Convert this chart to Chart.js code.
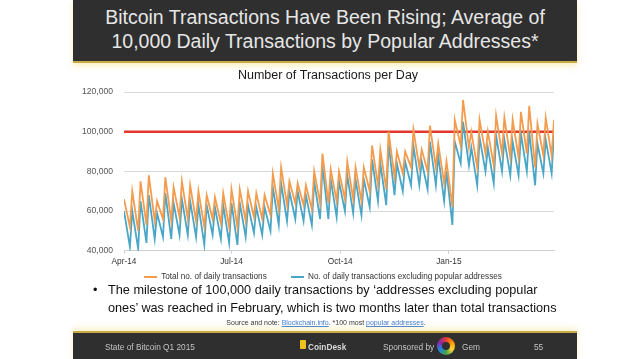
<!DOCTYPE html>
<html>
<head>
<meta charset="utf-8">
<script src="https://cdn.jsdelivr.net/npm/chart.js@4.4.1/dist/chart.umd.min.js"></script>
<style>
  html, body { margin: 0; padding: 0; background: #fff; }
  body { width: 638px; height: 359px; position: relative; overflow: hidden;
         font-family: "Liberation Sans", Arial, Helvetica, sans-serif; }
  .bar { position: absolute; left: 73px; width: 504px; background: #2f2f2f; }
  #header { top: 0; height: 61px; border-bottom: 2px solid #c8ab45;
            box-shadow: 0 3px 6px rgba(245, 225, 140, 0.55); }
  #header div { position: absolute; left: 0; width: 100%; text-align: center;
                color: #e6e6e6; font-size: 19.5px; line-height: 20px; white-space: nowrap; }
  #footer { top: 331px; height: 28px; border-top: 2px solid #c8ab45;
            box-shadow: 0 -3px 6px rgba(245, 225, 140, 0.45); }
  #footer span { position: absolute; top: 9px; font-size: 8.3px; line-height: 10px;
                 color: #c4c4c4; white-space: nowrap; }
  #chart { position: absolute; left: 68px; top: 64px; }
  #bullet { position: absolute; left: 93px; top: 281px; font-size: 12.7px; line-height: 18px;
            color: #111; white-space: nowrap; }
  #bullet .dot { position: absolute; left: 0; }
  #bullet .txt { position: absolute; left: 15px; }
  #source { position: absolute; left: 0; width: 652px; top: 318px; text-align: center;
            font-size: 7px; line-height: 9px; color: #333; white-space: nowrap; }
  #source a { color: #3a7bd5; text-decoration: underline; }
  .cd-icon { position: absolute; top: 7px; width: 6px; height: 9px;
             background: #f0c020; border-radius: 1px; }
  .gem { position: absolute; top: 4px; width: 18px; height: 18px; border-radius: 50%;
         background: conic-gradient(#e53935, #ff9800, #fdd835, #43a047, #1e88e5, #8e24aa, #e53935); }
  .gem::after { content: ""; position: absolute; left: 5px; top: 5px; width: 8px; height: 8px;
                border-radius: 50%; background: #2f2f2f; }
</style>
</head>
<body>
<div id="header" class="bar">
  <div style="top:7px">Bitcoin Transactions Have Been Rising; Average of</div>
  <div style="top:31px">10,000 Daily Transactions by Popular Addresses*</div>
</div>

<canvas id="chart" width="520" height="227"></canvas>

<div id="bullet">
  <span class="dot">•</span>
  <span class="txt">The milestone of 100,000 daily transactions by ‘addresses excluding popular<br>ones’ was reached in February, which is two months later than total transactions</span>
</div>
<div id="source">Source and note: <a>Blockchain.info</a>. *100 most <a>popular addresses</a>.</div>

<div id="footer" class="bar">
  <span style="left:32px">State of Bitcoin Q1 2015</span>
  <div class="cd-icon" style="left:227px"></div>
  <span style="left:235px;font-weight:bold;color:#d8d8d8">CoinDesk</span>
  <span style="left:310px">Sponsored by</span>
  <div class="gem" style="left:364px"></div>
  <span style="left:389px">Gem</span>
  <span style="left:461px">55</span>
</div>

<script>
// days since 1 Apr 2014
const tickDays = [0, 91, 183, 275];
const tickLabels = ['Apr-14', 'Jul-14', 'Oct-14', 'Jan-15'];
const lastDay = 364;
const yTicks = [40000, 60000, 80000, 100000, 120000];
const milestone = 100000;

// weekly highs (Tuesdays, day 0,7,14..) and weekend lows (Sundays, day 5,12,19..)
const totalPeaks = [66000, 70000, 75000, 78000, 65000, 77000, 72000, 75000, 73000, 70000,
  68000, 67000, 69000, 71000, 71000, 70000, 69000, 68000, 79000, 82000,
  75000, 74000, 73000, 80000, 89000, 81000, 80000, 85000, 82000, 82000,
  93000, 91000, 100000, 90000, 90000, 101000, 91000, 103000, 94000, 85000,
  106000, 116000, 100000, 106000, 100000, 108000, 107000, 106000, 110000, 113000,
  104000, 107000, 106000];
const totalTroughs = [52000, 50000, 53000, 55000, 56000, 55000, 57000, 56000, 55000, 52000,
  56000, 54000, 52000, 52000, 55000, 57000, 56000, 58000, 61000, 63000,
  64000, 63000, 61000, 64000, 64000, 65000, 66000, 66000, 65000, 70000,
  73000, 71000, 77000, 79000, 82000, 82000, 80000, 82000, 74000, 62000,
  93000, 92000, 82000, 89000, 83000, 89000, 87000, 87000, 89000, 82000,
  88000, 88000];
const exclPeaks = [60000, 60000, 65000, 68000, 59000, 69000, 64000, 66000, 65000, 63000,
  63000, 62000, 63000, 64000, 64000, 63000, 62000, 62000, 72000, 74000,
  70000, 70000, 68000, 75000, 83000, 76000, 75000, 78000, 76000, 76000,
  86000, 84000, 94000, 84000, 85000, 93000, 85000, 95000, 88000, 80000,
  95000, 105000, 92000, 97000, 92000, 98000, 96000, 95000, 99000, 100000,
  94000, 96000, 99000];
const exclTroughs = [42000, 41000, 44000, 46000, 47000, 46000, 48000, 48000, 47000, 43000,
  48000, 46000, 44000, 43000, 47000, 49000, 48000, 50000, 53000, 55000,
  56000, 55000, 53000, 56000, 56000, 57000, 60000, 59000, 58000, 62000,
  65000, 63000, 68000, 70000, 73000, 73000, 71000, 73000, 65000, 53000,
  84000, 83000, 73000, 80000, 74000, 80000, 78000, 78000, 80000, 73000,
  79000, 79000];

function weekly(peaks, troughs) {
  const pts = [];
  peaks.forEach((v, i) => {
    pts.push({ x: i * 7, y: v });
    if (i < troughs.length) pts.push({ x: i * 7 + 5, y: troughs[i] });
  });
  return pts;
}

// title and legend sit off-centre on the slide
const nudge = {
  id: 'nudge',
  afterLayout(chart) {
    chart.titleBlock.left += 17;
    chart.titleBlock.right += 17;
    chart.legend.left += 12;
    chart.legend.right += 12;
  },
};

Chart.defaults.font.family = '"Liberation Sans", Arial, Helvetica, sans-serif';

const ctx = document.getElementById('chart').getContext('2d');
new Chart(ctx, {
  type: 'line',
  data: {
    datasets: [
      {
        label: 'Total no. of daily transactions',
        data: weekly(totalPeaks, totalTroughs),
        borderColor: '#f39c4e',
        backgroundColor: '#f39c4e',
        borderWidth: 1.8,
        pointRadius: 0,
        tension: 0,
      },
      {
        label: 'No. of daily transactions excluding popular addresses',
        data: weekly(exclPeaks, exclTroughs),
        borderColor: '#4aa6c6',
        backgroundColor: '#4aa6c6',
        borderWidth: 1.8,
        pointRadius: 0,
        tension: 0,
      },
      {
        label: 'milestone',
        data: [{ x: 0, y: milestone }, { x: lastDay, y: milestone }],
        borderColor: '#e2382d',
        borderWidth: 2.5,
        pointRadius: 0,
      },
    ],
  },
  options: {
    responsive: false,
    animation: false,
    devicePixelRatio: 1,
    layout: { padding: { left: 0, right: 34, top: 0, bottom: 0 } },
    scales: {
      x: {
        type: 'linear',
        min: 0,
        max: lastDay,
        afterBuildTicks: (s) => { s.ticks = tickDays.map(v => ({ value: v })); },
        afterFit: (s) => { s.height = 16; },
        border: { color: '#d0d0d0' },
        grid: { drawOnChartArea: false, drawTicks: true, tickLength: 3, color: '#d0d0d0' },
        ticks: {
          color: '#333', font: { size: 8.3 }, padding: 3, maxRotation: 0, autoSkip: false,
          callback: (v) => tickLabels[tickDays.indexOf(v)],
        },
      },
      y: {
        min: 40000,
        max: 120000,
        afterBuildTicks: (s) => { s.ticks = yTicks.map(v => ({ value: v })); },
        afterFit: (s) => { s.width = 56; },
        border: { display: false },
        grid: { color: '#dadada', drawTicks: false },
        ticks: {
          color: '#555', font: { size: 8.6 }, padding: 11,
          callback: (v) => v.toLocaleString('en-US'),
        },
      },
    },
    plugins: {
      tooltip: { enabled: false },
      title: {
        display: true,
        text: 'Number of Transactions per Day',
        color: '#1a1a1a',
        font: { size: 12.5, weight: 'normal' },
        padding: { top: 4, bottom: 9 },
      },
      legend: {
        position: 'bottom',
        labels: {
          color: '#333',
          font: { size: 8.2 },
          boxWidth: 13,
          boxHeight: 2,
          padding: 6,
          generateLabels: (chart) => Chart.defaults.plugins.legend.labels.generateLabels(chart)
            .filter(item => item.datasetIndex < 2)
            .map(item => ({
              ...item,
              lineWidth: 0,
              text: item.datasetIndex === 0 ? item.text + '\u00a0'.repeat(8) : item.text,
            })),
        },
      },
    },
  },
  plugins: [nudge],
});
</script>
</body>
</html>
